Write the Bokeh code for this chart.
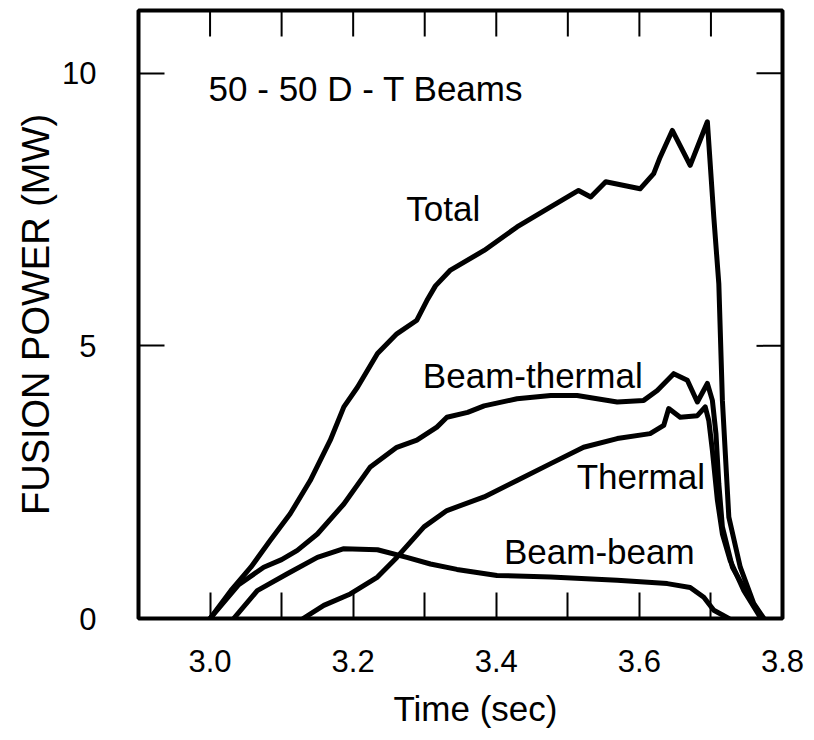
import math
from bokeh.plotting import figure
from bokeh.models import Range1d, LinearAxis, FixedTicker, PrintfTickFormatter, Label, Title
from bokeh.embed import file_html
from bokeh.resources import INLINE

# ---- data ----
total_t = [3.000, 3.029, 3.057, 3.084, 3.112, 3.140, 3.168, 3.187, 3.206, 3.234, 3.261, 3.289,
           3.303, 3.315, 3.336, 3.383, 3.429, 3.476, 3.515, 3.532, 3.553, 3.601, 3.620, 3.629,
           3.646, 3.671, 3.695, 3.704, 3.711, 3.716, 3.725, 3.741, 3.760, 3.774]
total_p = [0.00, 0.51, 0.94, 1.43, 1.92, 2.53, 3.27, 3.88, 4.24, 4.86, 5.22, 5.47,
           5.83, 6.10, 6.39, 6.75, 7.18, 7.55, 7.85, 7.73, 8.01, 7.88, 8.16, 8.46,
           8.95, 8.31, 9.11, 7.36, 6.14, 4.00, 1.86, 0.94, 0.27, 0.00]

bt_t = [3.000, 3.040, 3.075, 3.100, 3.122, 3.150, 3.187, 3.224, 3.261, 3.289, 3.317, 3.331,
        3.360, 3.383, 3.429, 3.476, 3.513, 3.569, 3.606, 3.625, 3.648, 3.667, 3.681, 3.695,
        3.702, 3.707, 3.711, 3.716, 3.730, 3.751, 3.772]
bt_p = [0.00, 0.62, 0.94, 1.08, 1.25, 1.55, 2.10, 2.78, 3.14, 3.27, 3.51, 3.69,
        3.78, 3.90, 4.03, 4.09, 4.09, 3.97, 4.00, 4.18, 4.49, 4.37, 3.97, 4.31,
        4.00, 3.39, 2.47, 1.68, 0.94, 0.45, 0.00]

th_t = [3.130, 3.159, 3.196, 3.234, 3.261, 3.299, 3.331, 3.383, 3.429, 3.476, 3.522, 3.569,
        3.615, 3.634, 3.641, 3.657, 3.681, 3.692, 3.697, 3.702, 3.709, 3.716, 3.727, 3.746, 3.770]
th_p = [0.00, 0.24, 0.45, 0.76, 1.12, 1.68, 1.98, 2.23, 2.53, 2.84, 3.14, 3.30,
        3.39, 3.54, 3.85, 3.69, 3.72, 3.88, 3.63, 3.08, 2.17, 1.55, 1.06, 0.51, 0.00]

bb_t = [3.033, 3.066, 3.108, 3.150, 3.187, 3.234, 3.275, 3.308, 3.345, 3.401, 3.476, 3.569,
        3.639, 3.671, 3.690, 3.704, 3.725]
bb_p = [0.00, 0.51, 0.82, 1.12, 1.28, 1.26, 1.12, 1.00, 0.90, 0.79, 0.76, 0.70,
        0.64, 0.57, 0.39, 0.15, 0.00]

x_major = [3.0, 3.2, 3.4, 3.6, 3.8]
x_minor = [3.1, 3.3, 3.5, 3.7]
x_all_ticks = [3.0, 3.1, 3.2, 3.3, 3.4, 3.5, 3.6, 3.7]
y_major = [0, 5, 10]
y_inner_ticks = [5, 10]

X_MIN, X_MAX = 2.9, 3.8
Y_MIN, Y_MAX = 0, 11.15

FONT = "Liberation Sans"
TICK_LEN = 26

p = figure(width=814, height=740, output_backend="svg", toolbar_location=None,
           x_range=Range1d(X_MIN, X_MAX), y_range=Range1d(Y_MIN, Y_MAX),
           x_axis_location=None, y_axis_location=None,
           min_border_left=138, min_border_right=32, min_border_top=10, min_border_bottom=122)
p.background_fill_color = "white"
p.border_fill_color = "white"
p.outline_line_color = "black"
p.outline_line_width = 4
p.grid.grid_line_color = None

bottom = LinearAxis(ticker=FixedTicker(ticks=x_major, minor_ticks=x_minor),
                    formatter=PrintfTickFormatter(format="%.1f"))
left = LinearAxis(ticker=FixedTicker(ticks=y_major),
                  formatter=PrintfTickFormatter(format="%d"))
for ax in (bottom, left):
    ax.axis_line_color = None
    ax.major_tick_in = TICK_LEN
    ax.major_tick_out = 0
    ax.minor_tick_in = TICK_LEN
    ax.minor_tick_out = 0
    ax.major_tick_line_width = 2
    ax.minor_tick_line_width = 2
    ax.major_tick_line_color = "black"
    ax.minor_tick_line_color = "black"
    ax.major_label_text_font = FONT
    ax.major_label_text_font_size = "31px"
    ax.major_label_text_color = "black"

bottom.major_label_standoff = 31
left.major_label_standoff = 42
left.axis_label = "FUSION POWER (MW)"
left.axis_label_text_font = FONT
left.axis_label_text_font_size = "38px"
left.axis_label_text_font_style = "normal"
left.axis_label_text_color = "black"
left.axis_label_standoff = 2
p.add_layout(bottom, "below")
p.add_layout(left, "left")

# x-axis title, placed a little right of the frame centre as in the reference
xtitle = Title(text="Time (sec)", align="left", offset=255, text_font=FONT,
               text_font_size="35px", text_font_style="normal", text_color="black",
               standoff=24)
p.add_layout(xtitle, "below")

# inward ticks on the top and right frame edges
p.ray(x=x_all_ticks, y=[Y_MAX] * len(x_all_ticks), length=TICK_LEN, length_units="screen",
      angle=-math.pi / 2, line_color="black", line_width=2)
p.ray(x=[X_MAX] * len(y_inner_ticks), y=y_inner_ticks, length=TICK_LEN, length_units="screen",
      angle=math.pi, line_color="black", line_width=2)

for tt, pp in [(total_t, total_p), (bt_t, bt_p), (th_t, th_p), (bb_t, bb_p)]:
    p.line(tt, pp, line_color="black", line_width=5, line_join="round", line_cap="round")

labels = [
    ("50 - 50 D - T Beams", 2.998, 9.72, "left"),
    ("Total", 3.326, 7.52, "center"),
    ("Beam-thermal", 3.451, 4.46, "center"),
    ("Thermal", 3.602, 2.61, "center"),
    ("Beam-beam", 3.544, 1.22, "center"),
]
for txt, x, y, al in labels:
    p.add_layout(Label(x=x, y=y, text=txt, text_font=FONT, text_font_size="35px",
                       text_align=al, text_baseline="middle", text_color="black"))

open("out.html", "w").write(file_html(p, INLINE))
